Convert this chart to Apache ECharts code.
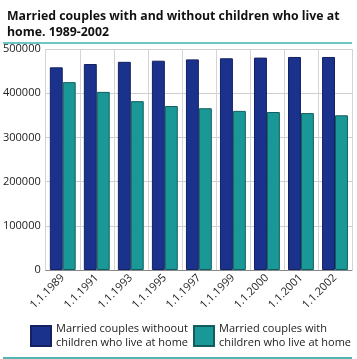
<!DOCTYPE html>
<html><head><meta charset="utf-8">
<script src="https://cdn.jsdelivr.net/npm/echarts@6/dist/echarts.min.js"></script>
<style>html,body{margin:0;padding:0;background:#fff}#c{width:357px;height:359px}</style>
</head><body><div id="c"></div>
<script>
const categories = ['1.1.1989','1.1.1991','1.1.1993','1.1.1995','1.1.1997','1.1.1999','1.1.2000','1.1.2001','1.1.2002'];
const withoutChildren = [458500, 466000, 471000, 473500, 476500, 479000, 480500, 482000, 482000];
const withChildren = [425000, 403000, 382000, 371000, 366000, 360000, 357500, 355000, 350000];
const yTicks = [0, 100000, 200000, 300000, 400000, 500000];
const seriesNames = ['Married couples withoout\nchildren who live at home', 'Married couples with\nchildren who live at home'];
const titleText = 'Married couples with and without children who live at\nhome. 1989-2002';

const font = '"Open Sans", "DejaVu Sans", sans-serif';
const legendText = {fontFamily: font, fontSize: 11, color: '#222', lineHeight: 14};
const chart = echarts.init(document.getElementById('c'));
chart.setOption({
  animation: false,
  title: {
    text: titleText, left: 2, top: 3,
    textStyle: {fontFamily: font, fontWeight: 'bold', fontSize: 12.3, color: '#111', lineHeight: 16}
  },
  graphic: [
    {type: 'line', shape: {x1: 3, y1: 43, x2: 352, y2: 43}, style: {stroke: '#3cb4b4', lineWidth: 1.5}},
    {type: 'line', shape: {x1: 3, y1: 358, x2: 352, y2: 358}, style: {stroke: '#1a9c96', lineWidth: 1.5}}
  ],
  grid: {left: 44, right: 5, top: 49, bottom: 89},
  legend: [
    {left: 30, top: 322, padding: 0, itemWidth: 20, itemHeight: 20, textStyle: legendText,
     data: [{name: seriesNames[0], icon: 'rect'}]},
    {left: 193, top: 322, padding: 0, itemWidth: 20, itemHeight: 20, textStyle: legendText,
     data: [{name: seriesNames[1], icon: 'rect'}]}
  ],
  xAxis: {
    type: 'category', data: categories,
    axisLine: {lineStyle: {color: '#888'}},
    axisTick: {show: false},
    splitLine: {show: true, lineStyle: {color: '#d4d4d4'}},
    axisLabel: {rotate: 45, fontFamily: font, fontSize: 11, color: '#222', margin: 6, interval: 0}
  },
  yAxis: {
    type: 'value', min: yTicks[0], max: yTicks[yTicks.length-1], interval: 100000,
    axisLine: {show: false}, axisTick: {show: false},
    splitLine: {lineStyle: {color: '#cfcfcf'}},
    axisLabel: {fontFamily: font, fontSize: 11, color: '#222', margin: 5, formatter: v => String(v)}
  },
  series: [
    {name: seriesNames[0], type: 'bar', data: withoutChildren, barGap: '0%', barCategoryGap: '24%',
     itemStyle: {color: '#1b328d', borderColor: '#142060', borderWidth: 1}},
    {name: seriesNames[1], type: 'bar', data: withChildren,
     itemStyle: {color: '#1a9898', borderColor: '#125e5e', borderWidth: 1}}
  ]
});
</script></body></html>
